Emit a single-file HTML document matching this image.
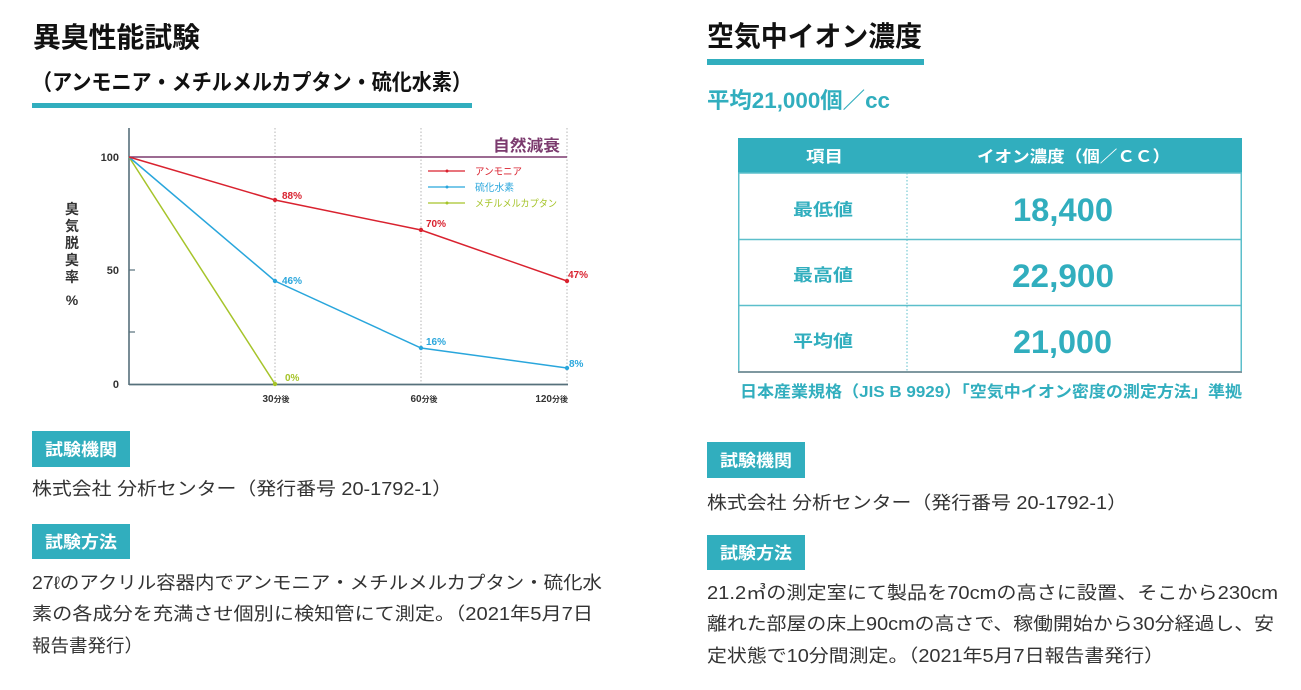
<!DOCTYPE html>
<html><head><meta charset="utf-8">
<style>
html,body{margin:0;padding:0;background:#fff;}
svg{display:block;}
text{font-family:"Liberation Sans","Noto Sans CJK JP",sans-serif;}
</style></head>
<body>
<svg width="1301" height="690" viewBox="0 0 1301 690" xmlns="http://www.w3.org/2000/svg">
<!-- LEFT HEADER -->
<text x="33" y="47" font-size="28" font-weight="bold" fill="#111" textLength="167" lengthAdjust="spacingAndGlyphs">異臭性能試験</text>
<text x="32" y="90" font-size="22" font-weight="bold" fill="#111" textLength="440" lengthAdjust="spacingAndGlyphs">（アンモニア・メチルメルカプタン・硫化水素）</text>
<rect x="32" y="103" width="440" height="5" fill="#31aebe"/>

<!-- CHART -->
<g>
<line x1="275" y1="128" x2="275" y2="384" stroke="#b5b5b5" stroke-width="1" stroke-dasharray="1.5 2"/>
<line x1="421" y1="128" x2="421" y2="384" stroke="#b5b5b5" stroke-width="1" stroke-dasharray="1.5 2"/>
<line x1="567" y1="128" x2="567" y2="384" stroke="#b5b5b5" stroke-width="1" stroke-dasharray="1.5 2"/>
<line x1="129" y1="157" x2="567" y2="157" stroke="#7b3a6e" stroke-width="1.5"/>
<text x="493" y="151" font-size="16" font-weight="bold" fill="#7b3a6e" textLength="67" lengthAdjust="spacingAndGlyphs">自然減衰</text>

<line x1="129" y1="128" x2="129" y2="385" stroke="#56707b" stroke-width="1.6"/>
<line x1="129" y1="384.5" x2="568" y2="384.5" stroke="#56707b" stroke-width="1.8"/>
<line x1="129" y1="270" x2="135" y2="270" stroke="#56707b" stroke-width="1.2"/>
<line x1="129" y1="332" x2="135" y2="332" stroke="#56707b" stroke-width="1.2"/>

<text x="119" y="161" font-size="11" font-weight="bold" fill="#333" text-anchor="end">100</text>
<text x="119" y="274" font-size="11" font-weight="bold" fill="#333" text-anchor="end">50</text>
<text x="119" y="388" font-size="11" font-weight="bold" fill="#333" text-anchor="end">0</text>

<g font-size="14" font-weight="bold" fill="#333" text-anchor="middle">
<text x="72" y="214">臭</text>
<text x="72" y="231">気</text>
<text x="72" y="248">脱</text>
<text x="72" y="265">臭</text>
<text x="72" y="282">率</text>
<text x="72" y="305">%</text>
</g>

<!-- series -->
<polyline points="129,157 275,384" fill="none" stroke="#a6c42a" stroke-width="1.5"/>
<polyline points="129,157 275,281 421,348 567,368" fill="none" stroke="#29a6dc" stroke-width="1.5"/>
<polyline points="129,157 275,200 421,230 567,281" fill="none" stroke="#d9222f" stroke-width="1.5"/>
<circle cx="275" cy="384" r="2.2" fill="#a6c42a"/>
<circle cx="275" cy="281" r="2.2" fill="#29a6dc"/>
<circle cx="421" cy="348" r="2.2" fill="#29a6dc"/>
<circle cx="567" cy="368" r="2.2" fill="#29a6dc"/>
<circle cx="275" cy="200" r="2.2" fill="#d9222f"/>
<circle cx="421" cy="230" r="2.2" fill="#d9222f"/>
<circle cx="567" cy="281" r="2.2" fill="#d9222f"/>

<g font-size="10" font-weight="bold">
<text x="282" y="199" fill="#d9222f">88%</text>
<text x="426" y="227" fill="#d9222f">70%</text>
<text x="568" y="278" fill="#d9222f">47%</text>
<text x="282" y="284" fill="#29a6dc">46%</text>
<text x="426" y="345" fill="#29a6dc">16%</text>
<text x="569" y="367" fill="#29a6dc">8%</text>
<text x="285" y="381" fill="#a6c42a">0%</text>
</g>

<!-- legend -->
<line x1="428" y1="171" x2="465" y2="171" stroke="#d9222f" stroke-width="1.3"/>
<circle cx="447" cy="171" r="1.5" fill="#d9222f"/>
<line x1="428" y1="187" x2="465" y2="187" stroke="#29a6dc" stroke-width="1.3"/>
<circle cx="447" cy="187" r="1.5" fill="#29a6dc"/>
<line x1="428" y1="203" x2="465" y2="203" stroke="#a6c42a" stroke-width="1.3"/>
<circle cx="447" cy="203" r="1.5" fill="#a6c42a"/>
<text x="475" y="175" font-size="10" fill="#d9222f" textLength="47" lengthAdjust="spacingAndGlyphs">アンモニア</text>
<text x="475" y="191" font-size="10" fill="#29a6dc" textLength="39" lengthAdjust="spacingAndGlyphs">硫化水素</text>
<text x="475" y="207" font-size="10" fill="#a6c42a" textLength="82" lengthAdjust="spacingAndGlyphs">メチルメルカプタン</text>

<!-- x labels -->
<text x="276" y="402" font-weight="bold" fill="#333" text-anchor="middle"><tspan font-size="10">30</tspan><tspan font-size="8">分後</tspan></text>
<text x="424" y="402" font-weight="bold" fill="#333" text-anchor="middle"><tspan font-size="10">60</tspan><tspan font-size="8">分後</tspan></text>
<text x="568" y="402" font-weight="bold" fill="#333" text-anchor="end"><tspan font-size="10">120</tspan><tspan font-size="8">分後</tspan></text>
</g>

<!-- LEFT INFO -->
<rect x="32" y="431" width="98" height="36" fill="#31aebe"/>
<text x="45" y="455.5" font-size="17" font-weight="bold" fill="#fff" textLength="72" lengthAdjust="spacingAndGlyphs">試験機関</text>
<text x="32" y="495" font-size="18" fill="#333" textLength="420" lengthAdjust="spacingAndGlyphs">株式会社 分析センター（発行番号 20-1792-1）</text>
<rect x="32" y="524" width="98" height="35" fill="#31aebe"/>
<text x="45" y="548" font-size="17" font-weight="bold" fill="#fff" textLength="72" lengthAdjust="spacingAndGlyphs">試験方法</text>
<text x="32" y="589" font-size="18" fill="#333" textLength="570" lengthAdjust="spacingAndGlyphs">27ℓのアクリル容器内でアンモニア・メチルメルカプタン・硫化水</text>
<text x="32" y="620" font-size="18" fill="#333" textLength="561" lengthAdjust="spacingAndGlyphs">素の各成分を充満させ個別に検知管にて測定。（2021年5月7日</text>
<text x="32" y="652" font-size="18" fill="#333" textLength="111" lengthAdjust="spacingAndGlyphs">報告書発行）</text>

<!-- RIGHT HEADER -->
<text x="707" y="46" font-size="28" font-weight="bold" fill="#111" textLength="215" lengthAdjust="spacingAndGlyphs">空気中イオン濃度</text>
<rect x="707" y="59" width="217" height="6" fill="#31aebe"/>
<text x="707" y="108" font-size="22" font-weight="bold" fill="#31aebe" textLength="183" lengthAdjust="spacingAndGlyphs">平均21,000個／cc</text>

<!-- TABLE -->
<rect x="738" y="138" width="504" height="35" fill="#31aebe"/>
<rect x="738.75" y="173" width="502.5" height="199" fill="none" stroke="#5cbfcb" stroke-width="1.5"/>
<line x1="738" y1="239.5" x2="1242" y2="239.5" stroke="#5cbfcb" stroke-width="1.5"/>
<line x1="738" y1="305.5" x2="1242" y2="305.5" stroke="#5cbfcb" stroke-width="1.5"/>
<line x1="907" y1="173" x2="907" y2="372" stroke="#5cbfcb" stroke-width="1" stroke-dasharray="1.5 2"/>
<line x1="738" y1="372" x2="1242" y2="372" stroke="#7f98a0" stroke-width="2"/>

<text x="806" y="162" font-size="16" font-weight="bold" fill="#fff" textLength="37" lengthAdjust="spacingAndGlyphs">項目</text>
<text x="977" y="162" font-size="16" font-weight="bold" fill="#fff" textLength="193" lengthAdjust="spacingAndGlyphs">イオン濃度（個／ＣＣ）</text>

<g font-size="17" font-weight="bold" fill="#31aebe">
<text x="793" y="215.5" textLength="60" lengthAdjust="spacingAndGlyphs">最低値</text>
<text x="793" y="281" textLength="60" lengthAdjust="spacingAndGlyphs">最高値</text>
<text x="793" y="347" textLength="60" lengthAdjust="spacingAndGlyphs">平均値</text>
</g>
<g font-size="32" font-weight="bold" fill="#31aebe">
<text x="1013" y="221" textLength="100" lengthAdjust="spacingAndGlyphs">18,400</text>
<text x="1012" y="287" textLength="102" lengthAdjust="spacingAndGlyphs">22,900</text>
<text x="1013" y="353" textLength="99" lengthAdjust="spacingAndGlyphs">21,000</text>
</g>
<text x="740" y="397" font-size="16" font-weight="bold" fill="#31aebe" textLength="502" lengthAdjust="spacingAndGlyphs">日本産業規格（JIS B 9929）「空気中イオン密度の測定方法」準拠</text>

<!-- RIGHT INFO -->
<rect x="707" y="442" width="98" height="36" fill="#31aebe"/>
<text x="720" y="466.5" font-size="17" font-weight="bold" fill="#fff" textLength="72" lengthAdjust="spacingAndGlyphs">試験機関</text>
<text x="707" y="509" font-size="18" fill="#333" textLength="420" lengthAdjust="spacingAndGlyphs">株式会社 分析センター（発行番号 20-1792-1）</text>
<rect x="707" y="535" width="98" height="35" fill="#31aebe"/>
<text x="720" y="559" font-size="17" font-weight="bold" fill="#fff" textLength="72" lengthAdjust="spacingAndGlyphs">試験方法</text>
<text x="707" y="599" font-size="18" fill="#333" textLength="571" lengthAdjust="spacingAndGlyphs">21.2㎥の測定室にて製品を70cmの高さに設置、そこから230cm</text>
<text x="707" y="630" font-size="18" fill="#333" textLength="567" lengthAdjust="spacingAndGlyphs">離れた部屋の床上90cmの高さで、稼働開始から30分経過し、安</text>
<text x="707" y="662" font-size="18" fill="#333" textLength="457" lengthAdjust="spacingAndGlyphs">定状態で10分間測定。（2021年5月7日報告書発行）</text>
</svg>
</body></html>
